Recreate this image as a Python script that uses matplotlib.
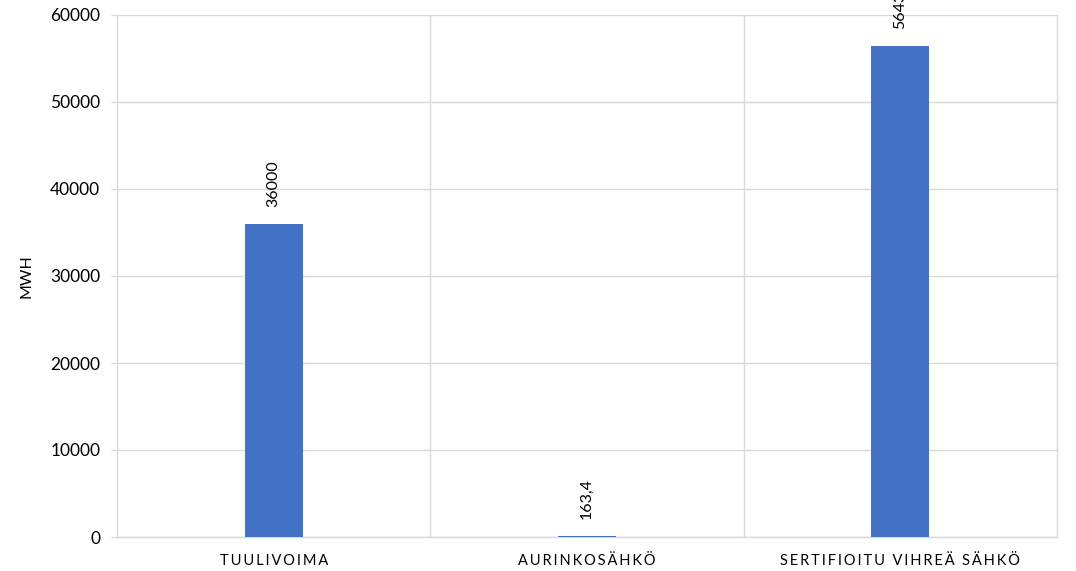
import matplotlib

matplotlib.use("Agg")
import matplotlib.pyplot as plt
from matplotlib.ticker import FixedLocator

categories = ["TUULIVOIMA", "AURINKOSÄHKÖ", "SERTIFIOITU VIHREÄ SÄHKÖ"]
values = [36000, 163.4, 56437]
value_labels = ["36000", "163,4", "56437"]
y_ticks = [0, 10000, 20000, 30000, 40000, 50000, 60000]

plt.rcParams["font.family"] = ["Lato", "DejaVu Sans"]

grid_c = "#d9d9d9"
bar_c = "#4472c4"
text_c = "#000000"


def spaced(s: str) -> str:
    # widen the category names a little, like the spreadsheet style
    return "\u2009".join(s)


fig = plt.figure(figsize=(10.76, 5.71), dpi=100)
ax = fig.add_axes([117 / 1076, 34 / 571, 940 / 1076, 522 / 571])

x = list(range(len(categories)))
ax.bar(x, values, width=0.185, color=bar_c, zorder=3)

for xi, v, lab in zip(x, values, value_labels):
    ax.annotate(
        lab,
        (xi, v),
        xytext=(0, 12),
        textcoords="offset points",
        rotation=90,
        ha="center",
        va="bottom",
        fontsize=11.5,
        color=text_c,
        annotation_clip=False,
    )

ax.set_xlim(-0.5, len(categories) - 0.5)
ax.set_ylim(0, 60000)
ax.set_yticks(y_ticks)
ax.set_yticklabels([str(t) for t in y_ticks], fontsize=12.5, color=text_c)
ax.set_xticks(x)
ax.set_xticklabels([spaced(c) for c in categories], fontsize=10.5, color=text_c)
ax.xaxis.set_minor_locator(FixedLocator([0.5, 1.5]))

ax.grid(axis="y", color=grid_c, lw=1, zorder=0)
ax.grid(axis="x", which="minor", color=grid_c, lw=1, zorder=0)
ax.tick_params(axis="y", length=4, color=grid_c, pad=8)
ax.tick_params(axis="x", which="major", length=0, pad=12)
ax.tick_params(axis="x", which="minor", length=0)

for side in ["left", "right", "bottom"]:
    ax.spines[side].set_color(grid_c)
    ax.spines[side].set_linewidth(1)
ax.spines["top"].set_visible(False)

ax.set_ylabel("MWH", fontsize=11.5, color=text_c, labelpad=12)

fig.savefig("out.png", dpi=100)
